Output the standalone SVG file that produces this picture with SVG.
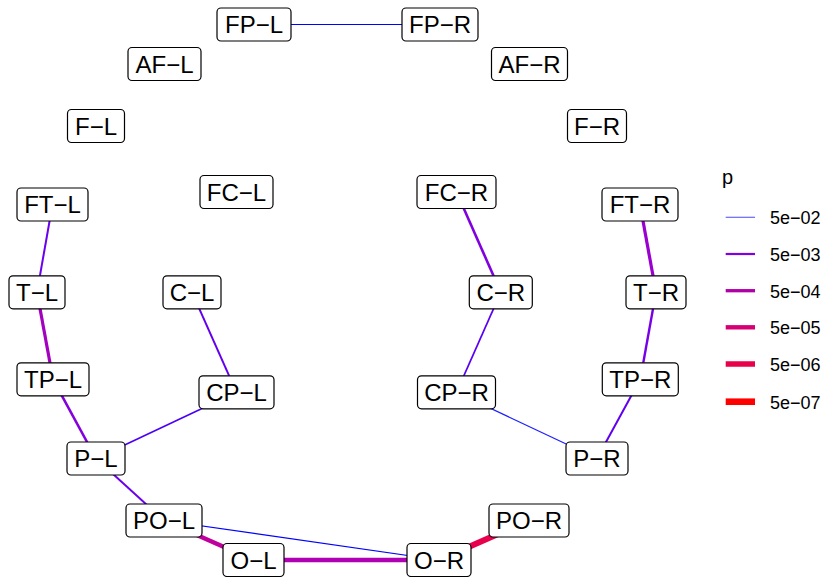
<svg xmlns="http://www.w3.org/2000/svg" width="826" height="577" viewBox="0 0 826 577">
<style>
.n rect{fill:#fff;stroke:#000;stroke-width:1.2}
.n text{font-family:"Liberation Sans",Arial,sans-serif;font-size:24px;text-anchor:middle;fill:#000}
.e line{stroke-linecap:butt}
.lg text{font-family:"Liberation Sans",Arial,sans-serif;font-size:18px;fill:#000}
</style>
<rect width="826" height="577" fill="#fff"/>
<g id="edges" class="e">
<line x1="254" y1="24.5" x2="440" y2="24.5" stroke="#0000ff" stroke-width="1.2"/>
<line x1="52.5" y1="204.5" x2="37" y2="292.3" stroke="#6a00f0" stroke-width="2"/>
<line x1="37" y1="292.3" x2="53" y2="379.3" stroke="#a400c0" stroke-width="3.2"/>
<line x1="53" y1="379.3" x2="96" y2="458.5" stroke="#8400dc" stroke-width="2.6"/>
<line x1="192" y1="292.3" x2="236.5" y2="392.3" stroke="#6400f0" stroke-width="2"/>
<line x1="236.5" y1="392.3" x2="96" y2="458.5" stroke="#4a00f8" stroke-width="1.6"/>
<line x1="96" y1="458.5" x2="164" y2="520.5" stroke="#6c00ec" stroke-width="2"/>
<line x1="164" y1="520.5" x2="253.5" y2="560" stroke="#c0009c" stroke-width="4.5"/>
<line x1="164" y1="520.5" x2="439" y2="560" stroke="#0000ff" stroke-width="1.2"/>
<line x1="253.5" y1="560" x2="439" y2="560" stroke="#b000b4" stroke-width="4.5"/>
<line x1="439" y1="560" x2="529" y2="520.5" stroke="#e8004c" stroke-width="6"/>
<line x1="456.5" y1="192" x2="500.8" y2="292.3" stroke="#8000e0" stroke-width="2.6"/>
<line x1="500.8" y1="292.3" x2="456.5" y2="392.3" stroke="#5a00f4" stroke-width="1.7"/>
<line x1="456.5" y1="392.3" x2="597" y2="458.5" stroke="#1e1eff" stroke-width="1.2"/>
<line x1="640" y1="204.5" x2="656" y2="292.3" stroke="#9a00d0" stroke-width="3.2"/>
<line x1="656" y1="292.3" x2="640.3" y2="379.3" stroke="#7800e8" stroke-width="2.4"/>
<line x1="640.3" y1="379.3" x2="597" y2="458.5" stroke="#6000f0" stroke-width="2"/>
</g>
<g id="FP-L" class="n"><rect x="217" y="8" width="74" height="33" rx="4"/><text x="254" y="33.2">FP−L</text></g>
<g id="FP-R" class="n"><rect x="402" y="8" width="76" height="33" rx="4"/><text x="440" y="33.2">FP−R</text></g>
<g id="AF-L" class="n"><rect x="128" y="47.5" width="73" height="33" rx="4"/><text x="164.5" y="72.7">AF−L</text></g>
<g id="AF-R" class="n"><rect x="491.5" y="47.5" width="76" height="33" rx="4"/><text x="529.5" y="72.7">AF−R</text></g>
<g id="F-L" class="n"><rect x="67.5" y="109.5" width="57" height="33" rx="4"/><text x="96" y="134.7">F−L</text></g>
<g id="F-R" class="n"><rect x="567.5" y="109.5" width="59" height="33" rx="4"/><text x="597" y="134.7">F−R</text></g>
<g id="FC-L" class="n"><rect x="200" y="175.5" width="73" height="33" rx="4"/><text x="236.5" y="200.7">FC−L</text></g>
<g id="FC-R" class="n"><rect x="417" y="175.5" width="79" height="33" rx="4"/><text x="456.5" y="200.7">FC−R</text></g>
<g id="FT-L" class="n"><rect x="17" y="188" width="71" height="33" rx="4"/><text x="52.5" y="213.2">FT−L</text></g>
<g id="FT-R" class="n"><rect x="602" y="188" width="76" height="33" rx="4"/><text x="640" y="213.2">FT−R</text></g>
<g id="T-L" class="n"><rect x="9" y="275.8" width="56" height="33" rx="4"/><text x="37" y="301">T−L</text></g>
<g id="T-R" class="n"><rect x="626" y="275.8" width="60" height="33" rx="4"/><text x="656" y="301">T−R</text></g>
<g id="C-L" class="n"><rect x="163" y="275.8" width="58" height="33" rx="4"/><text x="192" y="301">C−L</text></g>
<g id="C-R" class="n"><rect x="469.3" y="275.8" width="63" height="33" rx="4"/><text x="500.8" y="301">C−R</text></g>
<g id="TP-L" class="n"><rect x="17" y="362.8" width="72" height="33" rx="4"/><text x="53" y="388">TP−L</text></g>
<g id="TP-R" class="n"><rect x="602.3" y="362.8" width="76" height="33" rx="4"/><text x="640.3" y="388">TP−R</text></g>
<g id="CP-L" class="n"><rect x="199" y="375.8" width="75" height="33" rx="4"/><text x="236.5" y="401">CP−L</text></g>
<g id="CP-R" class="n"><rect x="417.5" y="375.8" width="78" height="33" rx="4"/><text x="456.5" y="401">CP−R</text></g>
<g id="P-L" class="n"><rect x="67" y="442" width="58" height="33" rx="4"/><text x="96" y="467.2">P−L</text></g>
<g id="P-R" class="n"><rect x="566" y="442" width="62" height="33" rx="4"/><text x="597" y="467.2">P−R</text></g>
<g id="PO-L" class="n"><rect x="126" y="504" width="76" height="33" rx="4"/><text x="164" y="529.2">PO−L</text></g>
<g id="PO-R" class="n"><rect x="489" y="504" width="80" height="33" rx="4"/><text x="529" y="529.2">PO−R</text></g>
<g id="O-L" class="n"><rect x="223" y="543.5" width="61" height="33" rx="4"/><text x="253.5" y="568.7">O−L</text></g>
<g id="O-R" class="n"><rect x="407" y="543.5" width="64" height="33" rx="4"/><text x="439" y="568.7">O−R</text></g>
<g id="legend" class="lg">
<text x="722" y="184" style="font-size:20px">p</text>
<line x1="725.7" y1="217.3" x2="755" y2="217.3" stroke="#0000ff" stroke-width="1.2" opacity="0.6"/>
<line x1="725.7" y1="254" x2="755" y2="254" stroke="#8000e0" stroke-width="2.2"/>
<line x1="725.7" y1="290.7" x2="755" y2="290.7" stroke="#b000a8" stroke-width="3.3"/>
<line x1="725.7" y1="327.3" x2="755" y2="327.3" stroke="#d60074" stroke-width="4.4"/>
<line x1="725.7" y1="364" x2="755" y2="364" stroke="#e8004a" stroke-width="5.5"/>
<line x1="725.7" y1="401.7" x2="755" y2="401.7" stroke="#ff0000" stroke-width="6.6"/>
<text x="770" y="224.3">5e−02</text>
<text x="770" y="261">5e−03</text>
<text x="770" y="297.7">5e−04</text>
<text x="770" y="334.3">5e−05</text>
<text x="770" y="371">5e−06</text>
<text x="770" y="408.7">5e−07</text>
</g>
</svg>
